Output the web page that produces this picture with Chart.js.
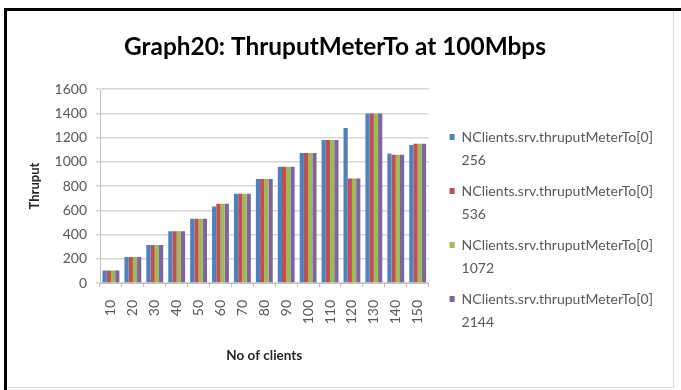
<!DOCTYPE html>
<html>
<head>
<meta charset="utf-8">
<script src="https://cdn.jsdelivr.net/npm/chart.js@4.4.1/dist/chart.umd.min.js"></script>
<style>
  html, body { margin: 0; padding: 0; background: #fff; }
  #frame {
    position: absolute; left: 4px; top: 8px; width: 677px; height: 382px;
    border-top: 3px solid #000; border-left: 3px solid #000; box-sizing: border-box;
  }
  #box {
    position: absolute; left: 0; top: 0; width: 666px; height: 376px;
    border-right: 1px solid #dcdcdc; border-bottom: 1px solid #dcdcdc;
  }
  canvas { display: block; }
</style>
</head>
<body>
<div id="frame"><div id="box"><canvas id="c" width="666" height="376"></canvas></div></div>
<script>
// Number of clients on the x axis
const clients = ['10', '20', '30', '40', '50', '60', '70', '80', '90', '100', '110', '120', '130', '140', '150'];

// Throughput per run, one array per meter series
const thruput256  = [104, 214, 313, 426, 530, 632, 737, 858, 959, 1072, 1179, 1278, 1399, 1069, 1138];
const thruput536  = [104, 214, 313, 426, 530, 654, 737, 858, 959, 1072, 1179, 863, 1399, 1058, 1149];
const thruput1072 = [104, 214, 313, 426, 530, 654, 737, 858, 959, 1072, 1179, 863, 1399, 1058, 1149];
const thruput2144 = [104, 214, 313, 426, 530, 654, 737, 858, 959, 1072, 1179, 863, 1399, 1058, 1149];

const seriesNames = [
  ['NClients.srv.thruputMeterTo[0]', '256'],
  ['NClients.srv.thruputMeterTo[0]', '536'],
  ['NClients.srv.thruputMeterTo[0]', '1072'],
  ['NClients.srv.thruputMeterTo[0]', '2144']
];
const yTicks = [0, 200, 400, 600, 800, 1000, 1200, 1400, 1600];

const colors = ['#4F81BD', '#C0504D', '#9BBB59', '#8064A2'];
const FONT = "Lato, 'Liberation Sans', sans-serif";
const grey = '#595959';

const seriesData = [thruput256, thruput536, thruput1072, thruput2144];

new Chart(document.getElementById('c'), {
  type: 'bar',
  data: {
    labels: clients,
    datasets: seriesData.map((d, i) => ({
      label: seriesNames[i],
      data: d,
      backgroundColor: colors[i],
      borderWidth: 0,
      categoryPercentage: 0.77,
      barPercentage: 1.0
    }))
  },
  options: {
    responsive: false,
    animation: false,
    layout: { padding: { top: 0, left: 0, right: 10, bottom: 19 } },
    plugins: {
      tooltip: { enabled: false },
      title: {
        display: true,
        text: 'Graph20: ThruputMeterTo at 100Mbps',
        color: '#000',
        font: { family: FONT, size: 24.4, weight: 'bold' },
        padding: { top: 21.4, bottom: 27.4 }
      },
      legend: {
        display: true,
        position: 'right',
        align: 'start',
        maxWidth: 222,
        title: { display: true, text: ' ', font: { family: FONT, size: 10 }, padding: { top: 99, bottom: 0 } },
        labels: {
          boxWidth: 5,
          boxHeight: 6,
          padding: 8,
          color: grey,
          font: { family: FONT, size: 14, lineHeight: '23px' }
        }
      }
    },
    scales: {
      x: {
        grid: { display: true, drawOnChartArea: false, drawTicks: true, tickLength: 4, color: '#bfbfbf', offset: true },
        border: { display: true, color: '#bfbfbf' },
        ticks: {
          color: grey,
          font: { family: FONT, size: 14 },
          minRotation: 90, maxRotation: 90,
          padding: 13,
          autoSkip: false
        },
        title: {
          display: true,
          text: 'No of clients',
          color: '#262626',
          font: { family: FONT, size: 13.5, weight: 'bold' },
          padding: { top: 4, bottom: 4 }
        },
        afterFit(s) { s.height = 85; }
      },
      y: {
        min: 0, max: 1600,
        afterBuildTicks(s) { s.ticks = yTicks.map(v => ({ value: v })); },
        grid: { color: '#d6d6d6', lineWidth: 1.5, drawTicks: true, tickLength: 4 },
        border: { display: true, color: '#bfbfbf' },
        ticks: { color: grey, font: { family: FONT, size: 14 }, padding: 9, callback: v => String(v) },
        title: {
          display: true,
          text: 'Thruput',
          color: '#262626',
          font: { family: FONT, size: 13, weight: 'bold' },
          padding: { top: 20, bottom: 0 }
        },
        afterFit(s) { s.width = 93; }
      },
      gap: {
        position: 'right',
        display: true,
        grid: { display: false },
        border: { display: false },
        ticks: { display: false },
        afterFit(s) { s.width = 13; }
      }
    }
  }
});
</script>
</body>
</html>
